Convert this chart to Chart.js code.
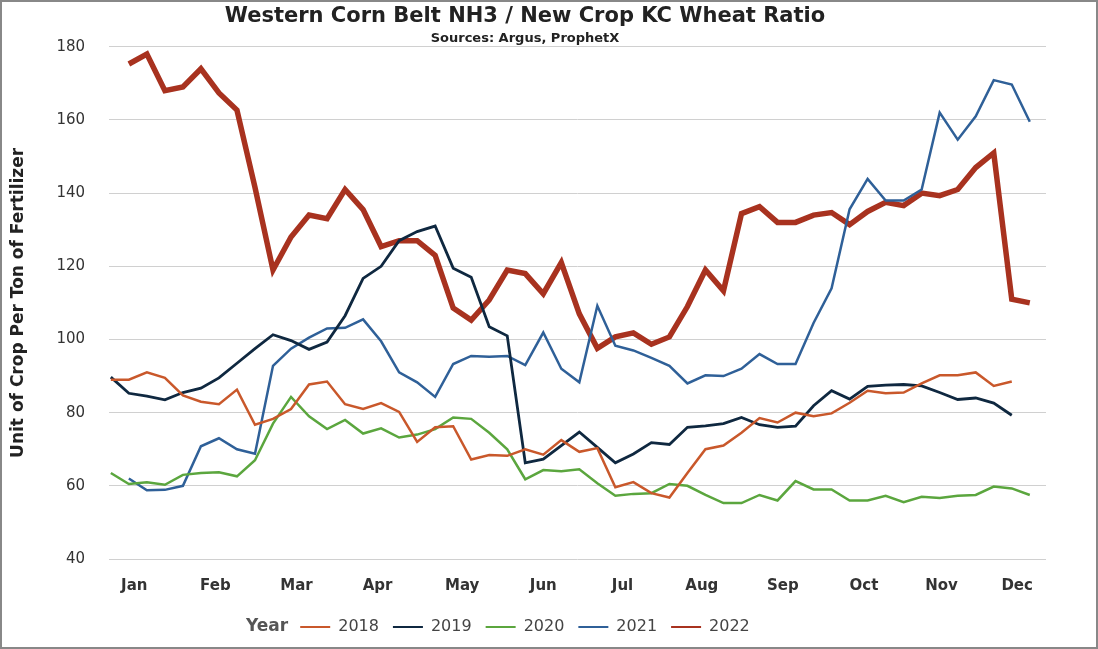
<!DOCTYPE html>
<html lang="en">
<head>
<meta charset="UTF-8">
<script src="https://cdn.jsdelivr.net/npm/chart.js@4.4.0/dist/chart.umd.min.js"></script>
<title>NH3 / Wheat Ratio</title>
<style>
  html, body { margin: 0; padding: 0; background: #fff; }
  #wrap { width: 1094px; height: 645px; border: 2px solid #888; }
</style>
</head>
<body>
<div id="wrap"><canvas id="myChart" width="1094" height="645"></canvas></div>
<script>
// month labels and their positions on the week axis
var months = ['Jan','Feb','Mar','Apr','May','Jun','Jul','Aug','Sep','Oct','Nov','Dec'];
var monthPos = [0.3, 4.8, 9.3, 13.8, 18.5, 23, 27.4, 31.8, 36.3, 40.8, 45.1, 49.3];

// weekly values, first value sits at the start index
var start2018 = -1;
var y2018 = [89, 89, 91, 89.5, 84.7, 83, 82.3, 86.3, 76.7, 78.3, 81, 87.7, 88.5, 82.3, 81, 82.6, 80.2, 72, 76, 76.3, 67.2, 68.4, 68.2, 70, 68.5, 72.5, 69.3, 70.3, 59.6, 61, 58, 56.8, 63.5, 70, 71, 74.5, 78.5, 77.3, 80, 79, 79.8, 82.7, 86, 85.3, 85.5, 88, 90.2, 90.2, 91, 87.3, 88.5];
var start2019 = -1;
var y2019 = [89.7, 85.3, 84.5, 83.5, 85.5, 86.7, 89.5, 93.5, 97.5, 101.3, 99.7, 97.3, 99.3, 106.5, 116.7, 120, 127, 129.5, 131, 119.5, 117, 103.5, 101, 66.3, 67.3, 71, 74.7, 70.5, 66.3, 68.7, 71.8, 71.3, 76, 76.4, 77, 78.7, 76.7, 76, 76.3, 81.9, 86, 83.7, 87.2, 87.5, 87.7, 87.3, 85.5, 83.6, 84, 82.6, 79.3];
var start2020 = -1;
var y2020 = [63.5, 60.5, 61, 60.3, 63, 63.5, 63.7, 62.6, 67, 77, 84.3, 79, 75.5, 78, 74.3, 75.7, 73.2, 74, 75.5, 78.7, 78.3, 74.5, 70, 61.8, 64.3, 64, 64.5, 60.7, 57.3, 57.8, 58, 60.5, 60, 57.5, 55.3, 55.3, 57.5, 56, 61.3, 59, 59, 56, 56, 57.3, 55.5, 57, 56.7, 57.3, 57.5, 59.8, 59.3, 57.5];
var start2021 = 0;
var y2021 = [62, 58.8, 58.9, 60, 70.8, 73, 70, 68.8, 92.8, 97.5, 100.5, 103, 103.2, 105.5, 99.5, 91, 88.3, 84.3, 93.3, 95.5, 95.3, 95.5, 93, 101.9, 92, 88.3, 109.2, 98.3, 97, 95, 92.8, 88, 90.2, 90, 92, 96, 93.3, 93.3, 104.5, 114, 135.6, 143.9, 138, 138, 141, 162, 154.6, 161, 170.9, 169.7, 159.5];
var start2022 = 0;
var y2022 = [175.3, 178, 168, 169, 174, 167.4, 162.7, 141.6, 119, 128, 134, 133, 141, 135.5, 125.4, 127, 127, 123, 108.6, 105.3, 110.8, 119, 118, 112.5, 121, 107, 97.6, 100.7, 101.8, 98.7, 100.7, 109, 119, 113.3, 134.4, 136.3, 132, 132, 134, 134.7, 131.4, 135, 137.5, 136.6, 140, 139.3, 141, 147, 151, 111, 110];

function pts(start, arr) {
    return arr.map(function (v, i) { return { x: start + i, y: v }; });
}
function ds(label, start, arr, color, width) {
    return { label: label, data: pts(start, arr), borderColor: color, backgroundColor: color,
             borderWidth: width, pointRadius: 0, tension: 0 };
}

// draws the "Year" word in front of the legend
var legendTitle = {
    id: 'legendTitle',
    afterDraw: function (chart) {
        var lg = chart.legend;
        if (!lg || !lg.legendHitBoxes.length) return;
        var b = lg.legendHitBoxes[0];
        var c = chart.ctx;
        c.save();
        c.font = 'bold 17px "DejaVu Sans"';
        c.fillStyle = '#555';
        c.textAlign = 'right';
        c.textBaseline = 'middle';
        c.fillText('Year', b.left - 12, b.top + b.height / 2);
        c.restore();
    }
};

var ctx = document.getElementById('myChart').getContext('2d');
var myChart = new Chart(ctx, {
    type: 'line',
    data: {
        datasets: [
            ds('2018', start2018, y2018, '#c9582b', 2.5),
            ds('2019', start2019, y2019, '#0f2840', 2.8),
            ds('2020', start2020, y2020, '#5ba63e', 2.5),
            ds('2021', start2021, y2021, '#2f6098', 2.5),
            ds('2022', start2022, y2022, '#a8321f', 5.5)
        ]
    },
    plugins: [legendTitle],
    options: {
        responsive: false,
        animation: false,
        layout: { padding: { left: 2, right: 50, top: 2, bottom: 2 } },
        plugins: {
            title: {
                display: true, text: 'Western Corn Belt NH3 / New Crop KC Wheat Ratio',
                color: '#222', font: { family: 'DejaVu Sans', size: 21, weight: 'bold' },
                padding: { top: 0, bottom: 2 }
            },
            subtitle: {
                display: true, text: 'Sources: Argus, ProphetX',
                color: '#222', font: { family: 'DejaVu Sans', size: 13, weight: 'bold' },
                padding: { bottom: 0 }
            },
            legend: {
                position: 'bottom',
                labels: {
                    boxWidth: 30, boxHeight: 2, padding: 14,
                    color: '#444', font: { family: 'DejaVu Sans', size: 16 },
                    generateLabels: function (chart) {
                        return chart.data.datasets.map(function (d, i) {
                            return { text: d.label, fillStyle: d.borderColor, strokeStyle: d.borderColor,
                                     lineWidth: 0, datasetIndex: i, fontColor: '#444' };
                        });
                    }
                }
            }
        },
        scales: {
            x: {
                type: 'linear', min: -1.1, max: 50.9,
                grid: { display: false },
                border: { display: false },
                afterBuildTicks: function (axis) {
                    axis.ticks = monthPos.map(function (p) { return { value: p }; });
                },
                ticks: {
                    autoSkip: false, maxRotation: 0, padding: 10,
                    color: '#333', font: { family: 'DejaVu Sans', size: 15, weight: 'bold' },
                    callback: function (v, i) { return months[i]; }
                }
            },
            y: {
                min: 40, max: 180,
                grid: { color: '#d0d0d0', drawTicks: false },
                border: { display: false },
                ticks: { stepSize: 20, padding: 24, color: '#333',
                         font: { family: 'DejaVu Sans', size: 15 } },
                title: {
                    display: true, text: 'Unit of Crop Per Ton of Fertilizer',
                    color: '#222', font: { family: 'DejaVu Sans', size: 17, weight: 'bold' }
                }
            }
        }
    }
});
</script>
</body>
</html>
